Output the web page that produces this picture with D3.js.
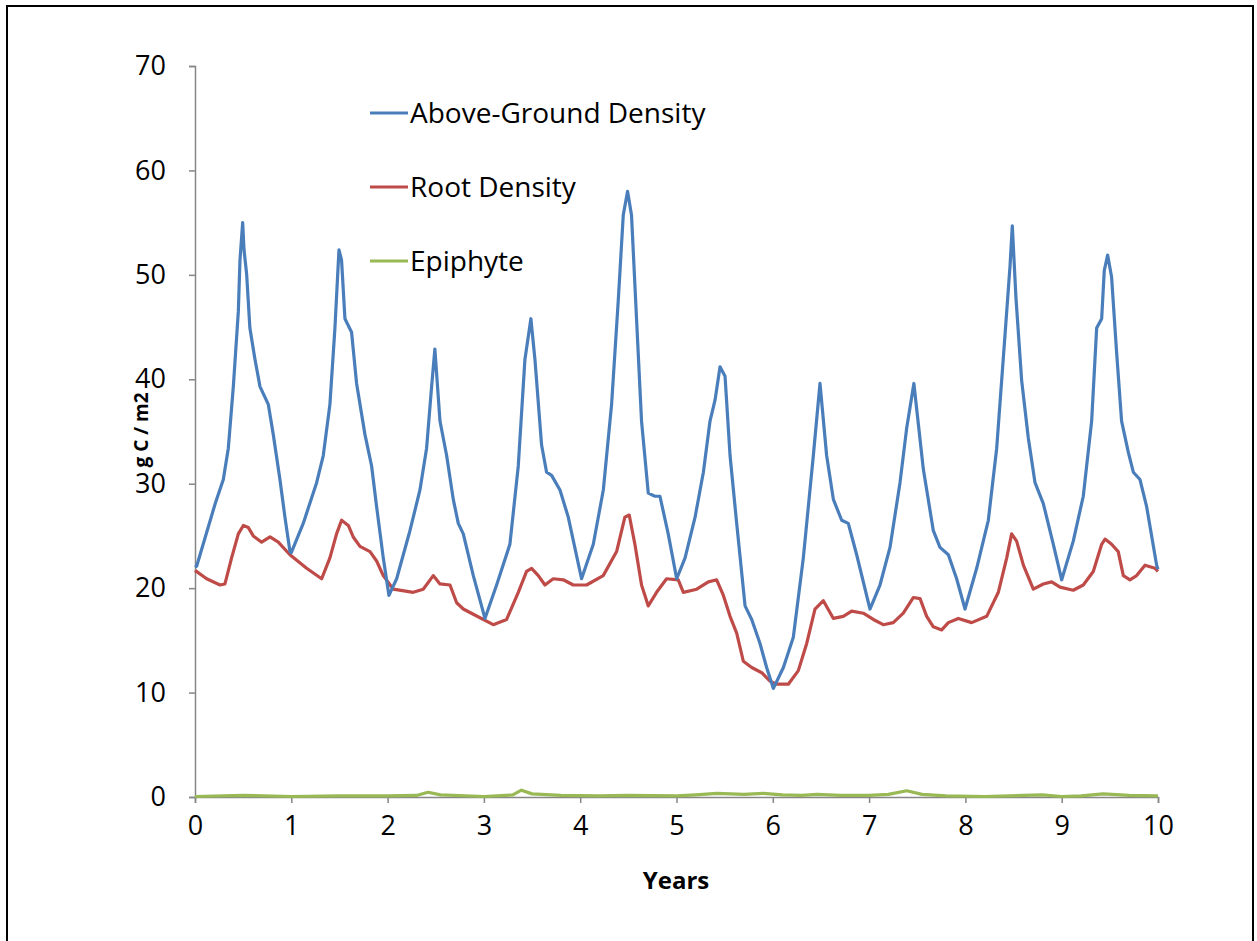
<!DOCTYPE html>
<html><head><meta charset="utf-8">
<script src="https://cdn.jsdelivr.net/npm/d3@7"></script>
<style>body{margin:0;background:#fff}svg{display:block}</style>
</head><body><div id="chart"></div>
<script>
// ---- data ----
const seriesNames = ["Above-Ground Density", "Root Density", "Epiphyte"];
const xTicks = [0,1,2,3,4,5,6,7,8,9,10];
const yTicks = [0,10,20,30,40,50,60,70];

const aboveYears = [0,0.017,0.21,0.294,0.346,0.398,0.45,0.467,0.495,0.509,0.536,0.57,0.623,0.675,0.761,0.813,0.882,0.934,0.986,1.0,1.124,1.263,1.332,1.401,1.453,1.495,1.522,1.557,1.626,1.678,1.765,1.834,1.886,1.955,2.014,2.094,2.232,2.336,2.405,2.457,2.491,2.544,2.613,2.682,2.734,2.786,2.89,3.011,3.132,3.27,3.357,3.426,3.488,3.53,3.599,3.651,3.703,3.79,3.876,4.014,4.136,4.24,4.326,4.395,4.447,4.492,4.533,4.585,4.637,4.707,4.776,4.828,4.914,5.002,5.089,5.193,5.279,5.348,5.4,5.452,5.504,5.556,5.625,5.712,5.781,5.867,5.936,6.006,6.11,6.213,6.317,6.421,6.49,6.559,6.629,6.715,6.784,6.871,7.009,7.113,7.217,7.321,7.39,7.465,7.563,7.667,7.736,7.823,7.909,7.996,8.117,8.238,8.325,8.411,8.463,8.487,8.525,8.584,8.653,8.723,8.809,8.913,9.0,9.12,9.224,9.311,9.363,9.415,9.442,9.477,9.518,9.57,9.622,9.692,9.744,9.813,9.882,9.986,10];
const aboveValues = [22.0,22.1,28.1,30.4,33.4,39.3,46.5,51.4,55.0,52.4,50.1,44.9,41.9,39.3,37.6,34.7,30.4,26.8,23.5,23.4,26.2,30.1,32.7,37.6,44.9,52.4,51.4,45.8,44.5,39.6,34.7,31.7,27.8,22.9,19.3,20.9,25.5,29.4,33.4,39.3,42.9,36.0,32.7,28.5,26.2,25.2,21.2,17.1,20.3,24.2,31.7,41.9,45.8,41.9,33.7,31.1,30.8,29.4,26.8,20.9,24.2,29.4,37.6,47.5,55.7,58.0,55.7,45.8,36.0,29.1,28.8,28.8,25.2,20.9,22.9,26.8,31.1,36.0,38.0,41.2,40.3,32.7,26.2,18.3,17.0,14.7,12.4,10.4,12.4,15.3,22.9,32.7,39.6,32.7,28.5,26.5,26.2,23.2,18.0,20.3,23.9,30.1,35.3,39.6,31.4,25.5,23.9,23.2,20.9,18.0,21.9,26.5,33.4,44.2,50.8,54.7,47.8,39.9,34.4,30.1,28.1,24.2,20.8,24.5,28.8,36.0,44.9,45.8,50.4,51.9,49.8,42.6,36.0,33.0,31.1,30.4,27.8,22.2,21.8];

const rootYears = [0,0.121,0.26,0.311,0.38,0.45,0.502,0.554,0.605,0.692,0.779,0.865,0.986,1.159,1.315,1.401,1.47,1.522,1.592,1.643,1.713,1.817,1.886,1.955,2.059,2.266,2.37,2.474,2.544,2.648,2.717,2.786,2.89,3.097,3.236,3.357,3.443,3.495,3.565,3.634,3.72,3.824,3.928,4.066,4.239,4.378,4.464,4.509,4.568,4.637,4.707,4.793,4.897,5.018,5.071,5.21,5.331,5.417,5.487,5.556,5.625,5.694,5.781,5.885,5.971,6.04,6.161,6.265,6.352,6.438,6.525,6.629,6.732,6.819,6.94,7.044,7.147,7.251,7.355,7.459,7.529,7.598,7.667,7.754,7.823,7.927,8.065,8.221,8.342,8.429,8.48,8.532,8.602,8.705,8.809,8.896,8.982,9.12,9.224,9.328,9.415,9.45,9.518,9.587,9.64,9.709,9.778,9.865,9.969,10];
const rootValues = [21.7,20.9,20.3,20.4,22.9,25.2,26.0,25.8,25.0,24.4,24.9,24.4,23.2,21.9,20.9,22.9,25.2,26.5,26.0,24.9,24.0,23.5,22.6,21.2,19.9,19.6,19.9,21.2,20.4,20.3,18.6,18.0,17.5,16.5,17.0,19.6,21.6,21.9,21.2,20.3,20.9,20.8,20.3,20.3,21.2,23.5,26.8,27.0,24.2,20.3,18.3,19.6,20.9,20.8,19.6,19.9,20.6,20.8,19.3,17.3,15.7,13.0,12.4,11.9,11.1,10.8,10.8,12.1,14.7,18.0,18.8,17.1,17.3,17.8,17.6,17.0,16.5,16.7,17.6,19.1,19.0,17.3,16.3,16.0,16.7,17.1,16.7,17.3,19.6,22.9,25.2,24.5,22.2,19.9,20.4,20.6,20.1,19.8,20.3,21.6,24.2,24.7,24.2,23.5,21.2,20.8,21.2,22.2,21.9,21.6];

const epiYears = [0,0.5,1,1.5,2,2.3,2.42,2.55,3.0,3.3,3.39,3.5,3.8,4.2,4.5,5.0,5.2,5.42,5.7,5.9,6.1,6.3,6.46,6.7,7.0,7.2,7.39,7.55,7.8,8.2,8.6,8.8,9.0,9.2,9.43,9.7,10];
const epiValues = [0.05,0.15,0.05,0.1,0.1,0.15,0.45,0.2,0.05,0.2,0.65,0.3,0.15,0.1,0.15,0.1,0.2,0.35,0.25,0.35,0.2,0.15,0.25,0.15,0.15,0.25,0.6,0.25,0.1,0.05,0.15,0.2,0.05,0.1,0.3,0.15,0.1];

const colors = ["#4a7ebb", "#be4b48", "#98b954"];

// ---- drawing ----
const W = 1257, H = 941;
const svg = d3.select("#chart").append("svg").attr("width", W).attr("height", H);
svg.append("rect").attr("x", 7).attr("y", 6).attr("width", 1246).attr("height", 960)
  .attr("fill", "#fff").attr("stroke", "#000").attr("stroke-width", 2);

const x = d3.scaleLinear().domain([0, 10]).range([195, 1158]);
const y = d3.scaleLinear().domain([0, 70]).range([797, 66]);
const font = "'Open Sans', sans-serif";

const yAxis = svg.append("g").attr("transform", "translate(195,0)")
  .call(d3.axisLeft(y).tickValues(yTicks).tickSize(6).tickPadding(23).tickFormat(d3.format("d")));
const xAxis = svg.append("g").attr("transform", "translate(0,797)")
  .call(d3.axisBottom(x).tickValues(xTicks).tickSize(6).tickPadding(13).tickFormat(d3.format("d")));
[yAxis, xAxis].forEach(a => {
  a.selectAll("path,line").attr("stroke", "#868686").attr("stroke-width", 1.5);
  a.selectAll("text").attr("fill", "#000").style("font-family", font).style("font-size", "27px");
});

const sets = [[aboveYears, aboveValues], [rootYears, rootValues], [epiYears, epiValues]];
const line = d3.line().x(d => x(d[0])).y(d => y(d[1]));
// draw epiphyte first, then root, then above-ground on top
[2,1,0].forEach(i => {
  const data = sets[i][0].map((t, k) => [t, sets[i][1][k]]);
  svg.append("path").datum(data).attr("d", line).attr("fill", "none")
    .attr("stroke", colors[i]).attr("stroke-width", 3.2).attr("stroke-linejoin", "round");
});

// legend
const legY = [113, 187, 261];
seriesNames.forEach((n, i) => {
  svg.append("line").attr("x1", 370).attr("x2", 408).attr("y1", legY[i]).attr("y2", legY[i])
    .attr("stroke", colors[i]).attr("stroke-width", 3.2);
  svg.append("text").attr("x", 410).attr("y", legY[i]).attr("dy", "0.35em")
    .style("font-family", font).style("font-size", "28px").text(n);
});

// axis titles
svg.append("text").attr("x", 676).attr("y", 889).attr("text-anchor", "middle")
  .style("font-family", font).style("font-size", "24px").style("font-weight", "bold").text("Years");
svg.append("text").attr("transform", "translate(141,430) rotate(-90)").attr("text-anchor", "middle")
  .attr("dy", "0.35em").style("font-family", font).style("font-size", "19px").style("font-weight", "bold").text("g C / m2");
</script></body></html>
